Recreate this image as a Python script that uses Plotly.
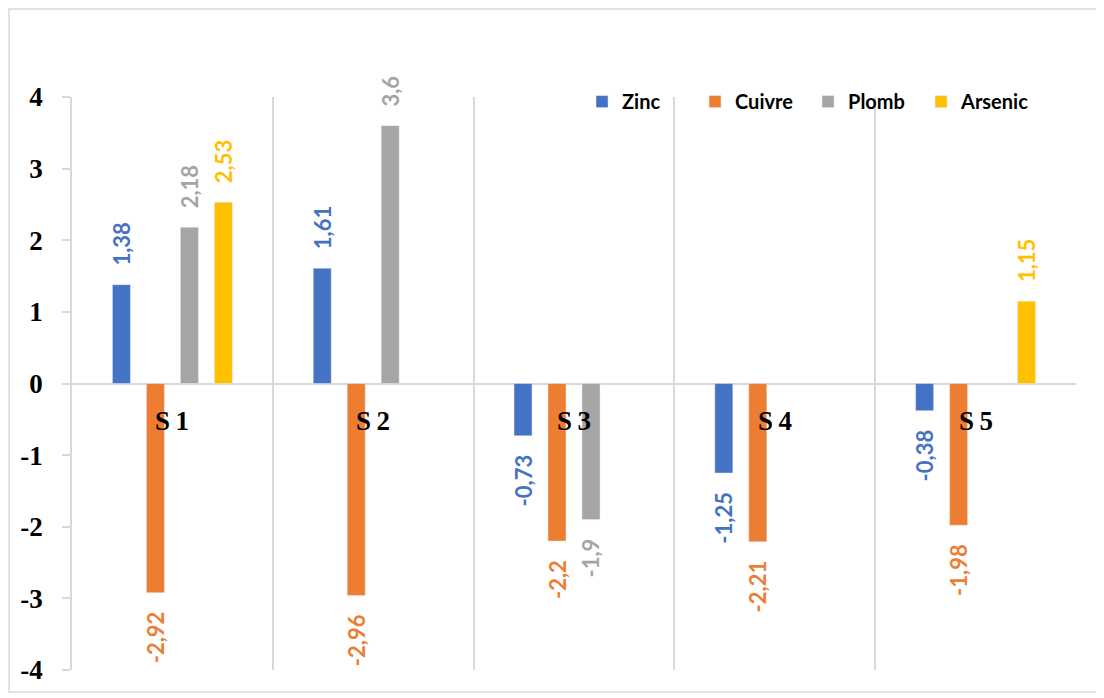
import plotly.graph_objects as go

categories = ["S1", "S2", "S3", "S4", "S5"]
series_names = ["Zinc", "Cuivre", "Plomb", "Arsenic"]
zinc = [1.38, 1.61, -0.73, -1.25, -0.38]
cuivre = [-2.92, -2.96, -2.2, -2.21, -1.98]
plomb = [2.18, 3.6, -1.9, None, None]
arsenic = [2.53, None, None, None, 1.15]
y_ticks = [-4, -3, -2, -1, 0, 1, 2, 3, 4]

colors = ["#4472C4", "#ED7D31", "#A5A5A5", "#FFC000"]
values = [zinc, cuivre, plomb, arsenic]

PAD = "\u00a0" * 3


def fmt(v):
    if v is None:
        return ""
    s = ("%g" % v).replace(".", ",")
    return "<b>" + (PAD + s if v >= 0 else s + PAD) + "</b>"


fig = go.Figure()
for name, vals, col in zip(series_names, values, colors):
    fig.add_trace(go.Bar(
        name=name, x=categories, y=vals, marker_color=col,
        text=[fmt(v) for v in vals], textposition="outside", textangle=-90,
        constraintext="none", cliponaxis=False,
        textfont=dict(family="Lato", size=22, color=col),
        hoverinfo="skip",
    ))

for c in categories:
    fig.add_annotation(x=c, y=0, yref="y", text="<b>%s\u2009%s</b>" % (c[0], c[1:]),
                       showarrow=False, yshift=-37,
                       font=dict(family="Liberation Serif", size=27, color="black"))

# outer frame of the chart
fig.add_shape(type="rect", xref="paper", yref="paper",
              x0=-0.0627, x1=1.0219, y0=-0.0384, y1=1.1536,
              line=dict(color="#d9d9d9", width=1.5), fillcolor="rgba(0,0,0,0)", layer="below")

fig.update_layout(
    width=1096, height=690,
    margin=dict(l=64, r=28, t=89, b=28),
    paper_bgcolor="white", plot_bgcolor="white",
    barmode="group", bargap=0.323, bargroupgap=0.47,
    showlegend=True,
    legend=dict(orientation="h", x=0.508, xanchor="left", y=1.026, yanchor="top",
                font=dict(family="Lato", size=20, color="black", weight="bold"),
                entrywidth=68, entrywidthmode="pixels", bgcolor="rgba(0,0,0,0)",
                itemclick=False),
    xaxis=dict(type="category", tickson="boundaries", showgrid=True, gridcolor="#d9d9d9",
               gridwidth=1.5, showticklabels=False, ticks="", showline=False, zeroline=False),
    yaxis=dict(range=[-4, 4], tickvals=y_ticks, ticktext=["<b>%d</b>" % t for t in y_ticks],
               showgrid=False, zeroline=True, zerolinecolor="#d9d9d9", zerolinewidth=1.5,
               showline=True, linecolor="#d9d9d9", linewidth=1.5,
               ticks="outside", ticklen=8, tickcolor="#d9d9d9", tickwidth=1.5,
               ticklabelstandoff=14,
               tickfont=dict(family="Liberation Serif", size=27, color="black")),
)

fig.write_html("out.html")
